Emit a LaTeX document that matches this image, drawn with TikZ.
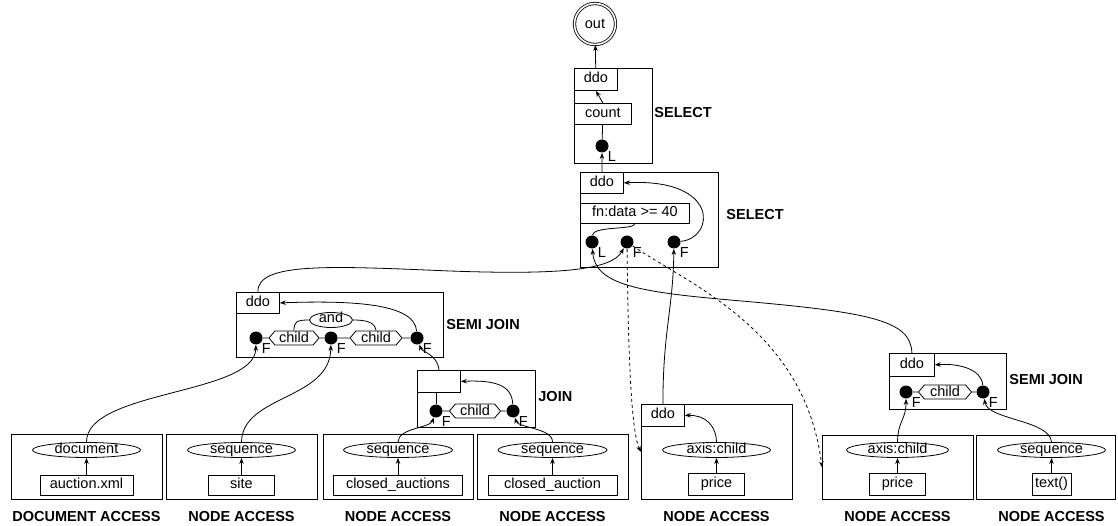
\documentclass[tikz,border=0pt]{standalone}
\usepackage{fontspec}
\setmainfont{Liberation Sans}
\usetikzlibrary{arrows.meta,shapes.geometric,shapes.symbols}
\newcommand\planfont{\fontsize{14.5}{17}\selectfont}

\tikzset{
  opframe/.style={draw, rectangle, inner sep=0pt, anchor=north west},
  opbox/.style={draw, rectangle, inner sep=0pt, text height=10pt, text depth=3pt, minimum height=21pt},
  axisell/.style={draw, ellipse, inner sep=0pt, text height=8pt, text depth=2pt, minimum height=15pt},
  childhex/.style={draw, signal, signal to=west and east, signal pointer angle=100, inner sep=0pt,
                   text height=10pt, text depth=1pt, minimum height=14pt},
  port/.style={circle, fill=black, inner sep=0pt, minimum size=13pt},
  portF/.style={port, label={[inner sep=0.5pt]-45:F}},
  portL/.style={port, label={[inner sep=0.5pt]-45:L}},
  optag/.style={anchor=west, inner sep=0pt, font=\planfont\bfseries},
  acctag/.style={inner sep=0pt, font=\planfont\bfseries},
}

\begin{document}
\begin{tikzpicture}[x=1pt, y=-1pt, line width=0.8pt, >={Stealth[length=6pt,width=4.5pt]},
                    every node/.append style={font=\planfont}]
\useasboundingbox (0,0) rectangle (1118,526);

% top select
\node[circle, draw, double, double distance=1.6pt, minimum size=41pt, inner sep=0pt] (out) at (595,24) {out};
\node[opframe, minimum width=78pt, minimum height=95pt] (sel1) at (574,68) {};
\node[opbox, anchor=north west, minimum width=43pt, minimum height=22pt] (ddo1) at (574,68) {ddo};
\node[opbox, anchor=north west, minimum width=57pt] (count1) at (574,103) {count};
\node[portL] (l1) at (602,146) {};
\node[optag] (tagsel1) at (654,113) {SELECT};

% second select
\node[opframe, minimum width=138pt, minimum height=95pt] (sel2) at (580,172) {};
\node[opbox, anchor=north west, minimum width=43pt] (ddo2) at (580,172) {ddo};
\node[opbox, anchor=north west, minimum width=109pt, minimum height=20pt] (pred2) at (580,203) {fn:data >= 40};
\node[portL] (l2) at (592,242) {};
\node[portF] (f2a) at (627,242) {};
\node[portF] (f2b) at (674,242) {};
\node[optag] (tagsel2) at (726,215) {SELECT};

% left semi join
\node[opframe, minimum width=207pt, minimum height=65pt] (sj1) at (236,292) {};
\node[opbox, anchor=north west, minimum width=43pt] (ddo3) at (236,292) {ddo};
\node[portF] (s1a) at (256,338) {};
\node[portF] (s1b) at (331,338) {};
\node[portF] (s1c) at (417,338) {};
\node[childhex, minimum width=50pt] (hex1a) at (294,338) {child};
\node[childhex, minimum width=52pt] (hex1b) at (376,338) {child};
\node[axisell, minimum width=43pt] (and1) at (331,320) {and};
\node[optag] (tagsj1) at (446,325) {SEMI JOIN};

% join
\node[opframe, minimum width=118pt, minimum height=57pt] (join) at (417,370) {};
\node[opbox, anchor=north west, minimum width=43pt, minimum height=22pt] (jbox) at (417,370) {};
\node[portF] (ja) at (436,411) {};
\node[portF] (jb) at (513,411) {};
\node[childhex, minimum width=51pt] (hexj) at (475,411) {child};
\node[optag] (tagjoin) at (538,397) {JOIN};

% right semi join
\node[opframe, minimum width=117pt, minimum height=56pt] (sj2) at (889,353) {};
\node[opbox, anchor=north west, minimum width=45pt, minimum height=23pt] (ddo4) at (889,353) {ddo};
\node[portF] (s2a) at (906,392) {};
\node[portF] (s2b) at (983,392) {};
\node[childhex, minimum width=53pt] (hex2) at (945,392) {child};
\node[optag] (tagsj2) at (1009,380) {SEMI JOIN};

% access boxes
\node[opframe, minimum width=151pt, minimum height=65pt] (acc1) at (11,434) {};
\node[opframe, minimum width=151pt, minimum height=65pt] (acc2) at (166,434) {};
\node[opframe, minimum width=150pt, minimum height=65pt] (acc3) at (323,434) {};
\node[opframe, minimum width=151pt, minimum height=65pt] (acc4) at (477,434) {};
\node[opframe, minimum width=151pt, minimum height=95pt] (acc5) at (641,404) {};
\node[opframe, minimum width=151pt, minimum height=64pt] (acc6) at (822,435) {};
\node[opframe, minimum width=139pt, minimum height=64pt] (acc7) at (976,435) {};
\node[opbox, anchor=north west, minimum width=43pt, minimum height=22pt] (ddo5) at (641,404) {ddo};

\node[axisell, minimum width=108pt] (ell1) at (86.5,450) {document};
\node[axisell, minimum width=108pt] (ell2) at (241.5,450) {sequence};
\node[axisell, minimum width=109pt] (ell3) at (398,450) {sequence};
\node[axisell, minimum width=109pt] (ell4) at (552.5,450) {sequence};
\node[axisell, minimum width=108pt] (ell5) at (716.5,450) {axis:child};
\node[axisell, minimum width=102pt] (ell6) at (897.5,450) {axis:child};
\node[axisell, minimum width=108pt] (ell7) at (1051.5,450) {sequence};

\node[opbox, minimum width=93pt, minimum height=20pt] (leaf1) at (86.5,485) {auction.xml};
\node[opbox, minimum width=66pt, minimum height=20pt] (leaf2) at (241.5,485) {site};
\node[opbox, minimum width=129pt, minimum height=20pt] (leaf3) at (398,485) {closed\_auctions};
\node[opbox, minimum width=129pt, minimum height=20pt] (leaf4) at (552.5,485) {closed\_auction};
\node[opbox, minimum width=56pt, minimum height=22pt] (leaf5) at (716.5,484) {price};
\node[opbox, minimum width=56pt, minimum height=22pt] (leaf6) at (897.5,484) {price};
\node[opbox, minimum width=39pt, minimum height=22pt] (leaf7) at (1051.5,484) {text()};

\node[acctag] (tag1) at (86.5,517) {DOCUMENT ACCESS};
\node[acctag] (tag2) at (241.5,517) {NODE ACCESS};
\node[acctag] (tag3) at (398,517) {NODE ACCESS};
\node[acctag] (tag4) at (552.5,517) {NODE ACCESS};
\node[acctag] (tag5) at (716.5,517) {NODE ACCESS};
\node[acctag] (tag6) at (897.5,517) {NODE ACCESS};
\node[acctag] (tag7) at (1051.5,517) {NODE ACCESS};

% inside the operators
\draw[->] (ddo1) -- (out);
\draw[->] (count1.north) -- (ddo1.south);
\draw (l1) -- (count1);
\draw[->] (ddo2) -- (l1);
\draw (pred2.south) .. controls (634,230) and (593,226) .. (l2);
\draw[->] (f2b) .. controls (715,238) and (720,178) .. (ddo2.east);
\draw[->] (s1c) .. controls (415,305) and (360,300) .. (ddo3.east);
\draw (and1) .. controls (296,320) and (294,322) .. (hex1a.north);
\draw (and1) .. controls (366,320) and (375,322) .. (hex1b.north);
\draw (s1a) -- (hex1a) -- (s1b) -- (hex1b) -- (s1c);
\draw[->] (jb) .. controls (512,385) and (495,380) .. (jbox.east);
\draw (ja) -- (ja |- jbox.south);
\draw (ja) -- (hexj) -- (jb);
\draw[->] (s2b) .. controls (982,370) and (960,363) .. (ddo4.east);
\draw (s2a) -- (hex2) -- (s2b);
\draw[->] (ell5.north) .. controls (716,425) and (705,415) .. (ddo5.east);
\foreach \i in {1,...,7}
  \draw[->] (leaf\i) -- (ell\i);

% between the operators
\draw[->] (jbox.north) .. controls (438,355) and (422,352) .. (s1c);
\draw[->] (ell1.north) .. controls (86,390) and (255,395) .. (s1a);
\draw[->] (ell2.north) .. controls (242,395) and (330,400) .. (s1b);
\draw[->] (ell3.north) .. controls (398,428) and (430,428) .. (ja);
\draw[->] (ell4.north) .. controls (553,428) and (518,428) .. (jb);
\draw[->] (ddo3.north) .. controls (257,262) and (330,266) .. (450,271)
          .. controls (560,275) and (612,270) .. (f2a);
\draw[->] (ddo4.north) .. controls (911,320) and (870,312) .. (730,300)
          .. controls (640,292) and (595,285) .. (l2);
\draw[->] (ddo5.north) .. controls (663,330) and (673,310) .. (f2b);
\draw[->, dashed] (f2a) .. controls (628,330) and (630,430) .. (acc5.west);
\draw[->, dashed] (f2a) .. controls (690,285) and (805,330) .. (acc6.west);
\draw[->] (ell6.north) .. controls (898,420) and (906,420) .. (s2a);
\draw[->] (ell7.north) .. controls (1050,420) and (988,420) .. (s2b);
\end{tikzpicture}
\end{document}
